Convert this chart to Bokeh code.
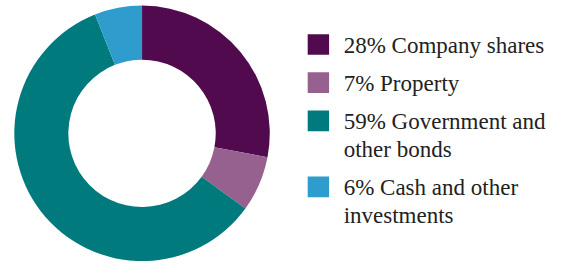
import math
from bokeh.plotting import figure
from bokeh.models import Range1d, ColumnDataSource
from bokeh.embed import file_html
from bokeh.resources import INLINE

# ---- data ----
categories = ["Company shares", "Property", "Government and\nother bonds", "Cash and other\ninvestments"]
shares = [28, 7, 59, 6]
colors = ["#500A4D", "#96608F", "#007A7D", "#2E9CCC"]

# ---- layout (reference pixel coordinates) ----
W, H = 558, 261
REF_W, REF_H = 574, 277
CX, CY = 145.6, REF_H - 141.0
R_OUT, R_IN = 131.4, 75.8
FONT = "Liberation Serif"

p = figure(width=W, height=H, output_backend="svg", toolbar_location=None,
           x_range=Range1d(0, REF_W), y_range=Range1d(0, REF_H),
           min_border=0, outline_line_color=None)
p.axis.visible = False
p.grid.visible = False
p.background_fill_color = "white"
p.border_fill_color = "white"

total = sum(shares)
starts, ends = [], []
cum = 0.0
for s in shares:
    starts.append(math.pi / 2 - 2 * math.pi * cum / total)
    cum += s
    ends.append(math.pi / 2 - 2 * math.pi * cum / total)

src = ColumnDataSource(dict(start=starts, end=ends, color=colors))
p.annular_wedge(x=CX, y=CY, inner_radius=R_IN, outer_radius=R_OUT,
                start_angle="start", end_angle="end", direction="clock",
                fill_color="color", line_color=None, source=src)

# legend (manual)
labels = [f"{s}% {c}" for s, c in zip(shares, categories)]
sq_x, sq_size = 327, 22
txt_x = 353
row_y = []
y = 46.7
for lab in labels:
    row_y.append(REF_H - y)
    y += 40.5 + 29.5 * lab.count("\n")

p.rect(x=sq_x, y=row_y, width=sq_size, height=sq_size, fill_color=colors, line_color=None)
tsrc = ColumnDataSource(dict(x=[txt_x] * len(labels), y=[ry + 12.3 for ry in row_y],
                             text=labels, font=[FONT] * len(labels)))
p.text(x="x", y="y", text="text", source=tsrc,
       text_font="font", text_font_size="23px",
       text_color="#222222", text_baseline="top", text_align="left",
       text_line_height=1.105)

open("out.html", "w").write(file_html(p, INLINE))
